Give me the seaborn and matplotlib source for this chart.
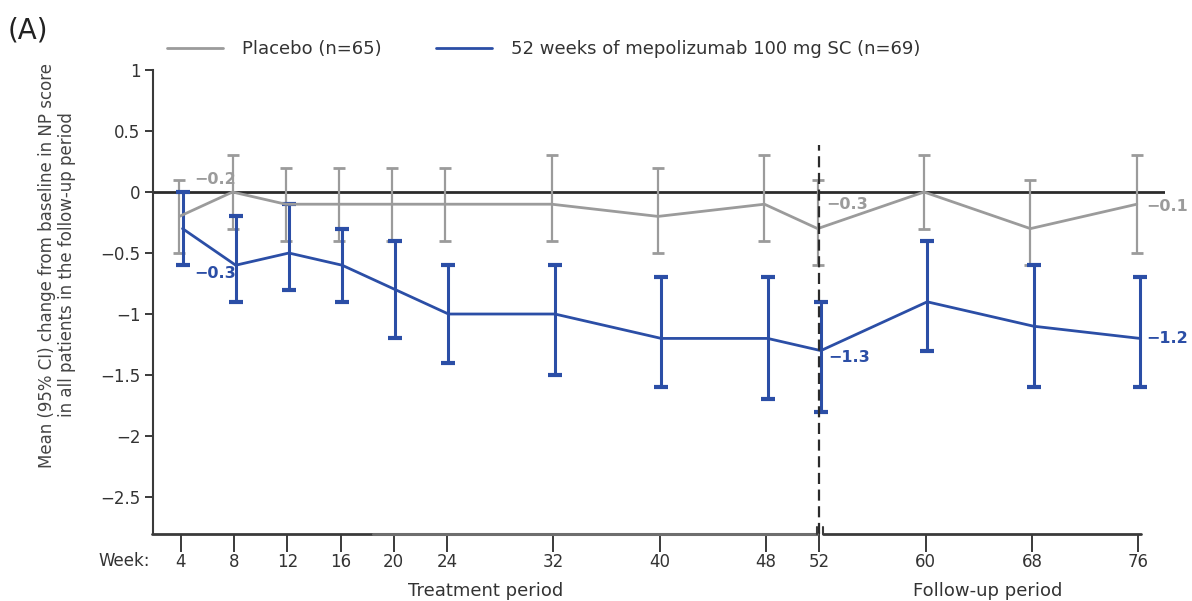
import numpy as np
import pandas as pd
import matplotlib
matplotlib.use("Agg")
import matplotlib.pyplot as plt
import seaborn as sns

# data
weeks = [4, 8, 12, 16, 20, 24, 32, 40, 48, 52, 60, 68, 76]
week_labels = ["4", "8", "12", "16", "20", "24", "32", "40", "48", "52", "60", "68", "76"]

placebo_mean = [-0.2, 0.0, -0.1, -0.1, -0.1, -0.1, -0.1, -0.2, -0.1, -0.3, 0.0, -0.3, -0.1]
placebo_lo = [-0.5, -0.3, -0.4, -0.4, -0.4, -0.4, -0.4, -0.5, -0.4, -0.6, -0.3, -0.6, -0.5]
placebo_hi = [0.1, 0.3, 0.2, 0.2, 0.2, 0.2, 0.3, 0.2, 0.3, 0.1, 0.3, 0.1, 0.3]

mepo_mean = [-0.3, -0.6, -0.5, -0.6, -0.8, -1.0, -1.0, -1.2, -1.2, -1.3, -0.9, -1.1, -1.2]
mepo_lo = [-0.6, -0.9, -0.8, -0.9, -1.2, -1.4, -1.5, -1.6, -1.7, -1.8, -1.3, -1.6, -1.6]
mepo_hi = [0.0, -0.2, -0.1, -0.3, -0.4, -0.6, -0.6, -0.7, -0.7, -0.9, -0.4, -0.6, -0.7]

y_ticks = [1, 0.5, 0, -0.5, -1, -1.5, -2, -2.5]
y_tick_labels = ["1", "0.5", "0", "\u22120.5", "\u22121", "\u22121.5", "\u22122", "\u22122.5"]

placebo_name = "Placebo (n=65)"
mepo_name = "52 weeks of mepolizumab 100 mg SC (n=69)"

gray = "#9b9b9b"
blue = "#2b4ea6"
dark = "#3a3a3a"
txt = "#333333"

df = pd.DataFrame({
    "week": weeks * 2,
    "mean": placebo_mean + mepo_mean,
    "group": [placebo_name] * len(weeks) + [mepo_name] * len(weeks),
})
# small horizontal dodge like the original
df["x"] = df["week"] + np.where(df["group"] == placebo_name, -0.12, 0.12)

sns.set_style("ticks")
plt.rcParams["font.family"] = ["DejaVu Sans"]

fig = plt.figure(figsize=(11.92, 6.01), dpi=100)
ax = fig.add_axes([153 / 1192, (601 - 534) / 601, 1012 / 1192, 464 / 601])

y_min, y_max = -2.803, 1.0
x_min, x_max = 1.9, 78.0

# zero line
ax.axhline(0, color="#2b2b2b", lw=2, zorder=1)

sns.lineplot(data=df, x="x", y="mean", hue="group", palette=[gray, blue],
             ax=ax, lw=2, zorder=3, legend=False, sort=False)

px = np.array(weeks) - 0.12
mx = np.array(weeks) + 0.12
ax.errorbar(px, placebo_mean,
            yerr=[np.array(placebo_mean) - np.array(placebo_lo), np.array(placebo_hi) - np.array(placebo_mean)],
            fmt="none", ecolor=gray, elinewidth=1.6, capsize=4.5, capthick=2.0, zorder=2)
ax.errorbar(mx, mepo_mean,
            yerr=[np.array(mepo_mean) - np.array(mepo_lo), np.array(mepo_hi) - np.array(mepo_mean)],
            fmt="none", ecolor=blue, elinewidth=2.2, capsize=5, capthick=3, zorder=2)

# dashed separator at week 52
ax.plot([52, 52], [y_min, 0.385], color="#2b2b2b", lw=1.6, ls=(0, (5, 2.5)), zorder=4, clip_on=False)

# value labels
lab = dict(fontsize=11.5, fontweight="bold")
ax.text(5.0, 0.1, "\u22120.2", color=gray, ha="left", va="center", **lab)
ax.text(6.6, -0.67, "\u22120.3", color=blue, ha="center", va="center", **lab)
ax.text(52.5, -0.1, "\u22120.3", color=gray, ha="left", va="center", **lab)
ax.text(76.6, -0.12, "\u22120.1", color=gray, ha="left", va="center", **lab)
ax.text(52.7, -1.36, "\u22121.3", color=blue, ha="left", va="center", **lab)
ax.text(76.6, -1.2, "\u22121.2", color=blue, ha="left", va="center", **lab)

ax.set_xlim(x_min, x_max)
ax.set_ylim(y_min, y_max)
ax.set_yticks(y_ticks)
ax.set_yticklabels(y_tick_labels)
ax.set_xticks(weeks)
ax.set_xticklabels(week_labels)
ax.tick_params(axis="y", direction="out", length=6, width=1.4, color=dark, labelsize=12,
               labelcolor=txt, pad=3)
ax.tick_params(axis="x", direction="out", length=13, width=1.4, color=dark, labelsize=12,
               labelcolor=txt, pad=1)

for s in ["top", "right", "bottom"]:
    ax.spines[s].set_visible(False)
ax.spines["left"].set_color(dark)
ax.spines["left"].set_linewidth(1.5)

# broken bottom axis line around week 52 (middle part slightly lighter, as in the scan)
ax.plot([1.82, 18.45], [y_min, y_min], color=dark, lw=2, clip_on=False, zorder=5)
ax.plot([18.45, 51.85], [y_min, y_min], color="#6e6e6e", lw=2.2, clip_on=False, zorder=5)
ax.plot([51.85, 51.85], [y_min, y_min + 0.06], color=dark, lw=1.5, clip_on=False, zorder=5)
ax.plot([52.3, 52.3], [y_min + 0.06, y_min], color=dark, lw=1.5, clip_on=False, zorder=5)
ax.plot([52.3, 76.16], [y_min, y_min], color=dark, lw=2, clip_on=False, zorder=5)

ax.set_xlabel("")
ax.set_ylabel("")
fig.text(57 / 1192, 1 - 265 / 601,
         "Mean (95% CI) change from baseline in NP score\nin all patients in the follow-up period",
         fontsize=12, color="#444444", rotation=90, ha="center", va="center", linespacing=1.1)

fig.text(98 / 1192, 1 - 561 / 601, "Week:", fontsize=12, color=txt, ha="left", va="center")
fig.text(486 / 1192, 1 - 591 / 601, "Treatment period", fontsize=13, color=txt, ha="center", va="center")
fig.text(988 / 1192, 1 - 591 / 601, "Follow-up period", fontsize=13, color=txt, ha="center", va="center")
fig.text(8 / 1192, 1 - 31 / 601, "(A)", fontsize=20, color="#222222", ha="left", va="center")

handles = [plt.Line2D([], [], color=gray, lw=2), plt.Line2D([], [], color=blue, lw=2)]
fig.legend(handles, [placebo_name, mepo_name], loc="center left",
           bbox_to_anchor=(151 / 1192, 1 - 49 / 601), ncol=2, frameon=False,
           fontsize=13, handlelength=3.1, columnspacing=3.0, handletextpad=1.05,
           labelcolor=txt)

fig.savefig("out.png", dpi=100)
